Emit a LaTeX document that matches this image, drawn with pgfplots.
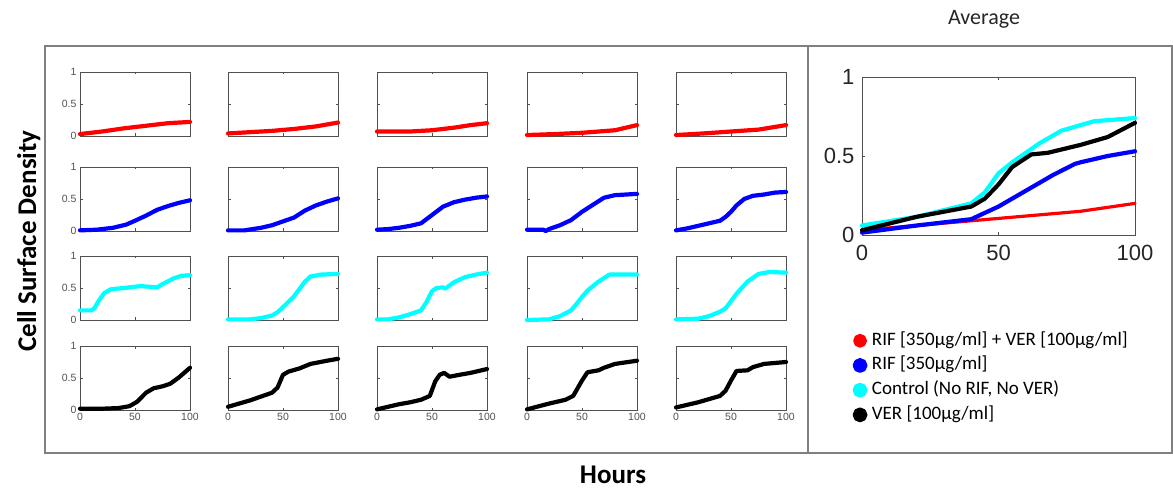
\documentclass[border=0pt]{standalone}
\usepackage{fontspec}
\setmainfont{Carlito}
\newfontfamily\helv{Liberation Sans}
\usepackage{pgfplots}
\pgfplotsset{compat=1.18}

\definecolor{framegray}{RGB}{128,128,128}
\definecolor{axgray}{RGB}{80,80,80}
\definecolor{labgray}{RGB}{38,38,38}
\definecolor{cy}{RGB}{0,255,255}
\definecolor{rd}{RGB}{255,0,0}
\definecolor{bl}{RGB}{0,0,255}

\pgfplotsset{
  cellax/.style={
    anchor=north west, scale only axis, width=110pt, height=64pt,
    xmin=0, xmax=100, ymin=0, ymax=1,
    xtick={0,50,100}, ytick={0,0.5,1},
    xticklabels={}, yticklabels={},
    tick align=inside, major tick length=2.5pt, tick pos=both,
    axis line style={draw=axgray, line width=0.8pt},
    tick style={draw=axgray, line width=0.6pt},
    tick label style={font=\helv\fontsize{10.5}{12}\selectfont, text=labgray!80},
    clip=false,
  },
  lx/.style={xticklabels={0,50,100}},
  ly/.style={yticklabels={0,0.5,1}},
  curve/.style={line width=4.2pt, line join=round, line cap=round},
}

% #1 left px, #2 top px, #3 colour, #4 extra axis options, #5 points
\newcommand{\cell}[5]{%
  \begin{axis}[cellax, at={(#1pt,-#2pt)}, #4]
    \addplot[#3, curve] coordinates {#5};
  \end{axis}}

\begin{document}
\begin{tikzpicture}[x=1pt, y=1pt]
\useasboundingbox (0pt,0pt) rectangle (1173pt,-489pt);

% frames
\draw[framegray, line width=1.5pt] (45pt,-46pt) rectangle (1172pt,-453pt);
\draw[framegray, line width=1.5pt] (808pt,-46pt) -- (808pt,-453pt);

% row 1: RIF + VER
\cell{80}{72}{rd}{ly}{(0,0.03) (20,0.07) (40,0.12) (60,0.16) (80,0.20) (100,0.22)}
\cell{228}{72}{rd}{}{(0,0.04) (20,0.06) (40,0.08) (60,0.11) (80,0.15) (100,0.21)}
\cell{377}{72}{rd}{}{(0,0.07) (30,0.07) (50,0.09) (70,0.13) (85,0.17) (100,0.20)}
\cell{527}{72}{rd}{}{(0,0.015) (25,0.03) (50,0.05) (80,0.09) (100,0.17)}
\cell{676}{72}{rd}{}{(0,0.015) (25,0.04) (50,0.07) (75,0.10) (100,0.17)}

% row 2: RIF
\cell{80}{167}{bl}{ly}{(0,0.01) (15,0.02) (30,0.05) (42,0.10) (50,0.16) (60,0.24) (70,0.33) (80,0.39) (90,0.44) (100,0.48)}
\cell{228}{167}{bl}{}{(0,0.01) (15,0.01) (30,0.05) (40,0.09) (50,0.15) (60,0.21) (70,0.32) (80,0.40) (90,0.46) (100,0.51)}
\cell{377}{167}{bl}{}{(0,0.02) (10,0.03) (20,0.05) (30,0.08) (40,0.12) (50,0.25) (60,0.38) (70,0.45) (80,0.49) (90,0.52) (100,0.54)}
\cell{527}{167}{bl}{}{(0,0.02) (15,0.02) (17,0.0) (20,0.03) (30,0.09) (40,0.17) (50,0.30) (60,0.41) (70,0.52) (80,0.56) (100,0.58)}
\cell{676}{167}{bl}{}{(0,0.01) (10,0.04) (20,0.08) (30,0.12) (40,0.16) (45,0.22) (50,0.30) (55,0.40) (62,0.50) (70,0.55) (80,0.57) (90,0.60) (100,0.61)}

% row 3: control
\cell{80}{256}{cy}{ly}{(0,0.15) (10,0.15) (13,0.18) (17,0.30) (22,0.42) (28,0.48) (40,0.50) (55,0.53) (70,0.51) (75,0.56) (85,0.65) (92,0.69) (100,0.70)}
\cell{228}{256}{cy}{}{(0,0.01) (20,0.01) (30,0.03) (40,0.07) (45,0.12) (50,0.20) (60,0.37) (70,0.60) (75,0.68) (85,0.71) (100,0.72)}
\cell{377}{256}{cy}{}{(0,0.01) (10,0.01) (20,0.04) (30,0.09) (40,0.15) (45,0.28) (50,0.45) (54,0.50) (60,0.51) (62,0.49) (70,0.59) (80,0.67) (90,0.71) (100,0.74)}
\cell{527}{256}{cy}{}{(0,0.00) (20,0.01) (30,0.06) (40,0.15) (45,0.25) (50,0.36) (55,0.46) (65,0.60) (75,0.71) (85,0.71) (100,0.71)}
\cell{676}{256}{cy}{}{(0,0.01) (20,0.02) (30,0.06) (40,0.13) (45,0.18) (55,0.41) (65,0.60) (75,0.72) (85,0.75) (100,0.74)}

% row 4: VER
\cell{80}{346}{black}{lx,ly}{(0,0.02) (20,0.02) (35,0.03) (45,0.06) (52,0.13) (60,0.27) (67,0.34) (75,0.37) (82,0.41) (90,0.51) (100,0.66)}
\cell{228}{346}{black}{lx}{(0,0.05) (10,0.10) (20,0.15) (30,0.21) (40,0.27) (45,0.35) (50,0.55) (55,0.60) (65,0.65) (75,0.72) (90,0.77) (100,0.80)}
\cell{377}{346}{black}{lx}{(0,0.01) (10,0.05) (20,0.09) (30,0.12) (40,0.16) (48,0.22) (53,0.45) (57,0.55) (61,0.58) (66,0.52) (75,0.55) (85,0.58) (100,0.64)}
\cell{527}{346}{black}{lx}{(0,0.01) (20,0.10) (35,0.16) (42,0.22) (50,0.46) (55,0.59) (65,0.62) (70,0.66) (80,0.72) (100,0.77)}
\cell{676}{346}{black}{lx}{(0,0.04) (20,0.12) (40,0.22) (45,0.30) (50,0.46) (55,0.61) (65,0.62) (70,0.67) (80,0.72) (100,0.75)}

% average
\begin{axis}[
  anchor=north west, at={(862pt,-77pt)}, scale only axis, width=273pt, height=158pt,
  xmin=0, xmax=100, ymin=0, ymax=1,
  xtick={0,50,100}, ytick={0,0.5,1},
  xticklabels={0,50,100}, yticklabels={0,0.5,1},
  tick align=inside, major tick length=3pt, tick pos=both,
  axis line style={draw=axgray, line width=0.9pt},
  tick style={draw=axgray, line width=0.6pt},
  tick label style={font=\helv\fontsize{22}{26}\selectfont, text=labgray},
  xticklabel style={yshift=-7pt},
  yticklabel style={xshift=-4pt},
  clip=false,
  legend style={at={(rel axis cs:-0.035,-0.608)}, anchor=north west, draw=none, fill=none,
    font=\fontsize{19}{22}\selectfont, row sep=5.7pt, inner sep=0pt,
    nodes={inner xsep=4.5pt, inner ysep=0pt, text height=14pt, text depth=5pt}},
  legend cell align=left,
  legend image code/.code={\fill[#1] (0pt,0pt) circle (5.3pt);},
]
\addplot[rd, line width=3.2pt, line cap=round, line join=round] coordinates {(0,0.03) (20,0.06) (40,0.09) (60,0.12) (80,0.15) (100,0.20)};
\addlegendentry{RIF [350µg/ml] + VER [100µg/ml]}
\addplot[bl, curve] coordinates {(0,0.015) (20,0.06) (40,0.10) (50,0.18) (60,0.28) (70,0.38) (78,0.45) (80,0.46) (90,0.50) (100,0.53)};
\addlegendentry{RIF [350µg/ml]}
\addplot[cy, curve] coordinates {(0,0.06) (20,0.115) (40,0.20) (45,0.27) (50,0.39) (55,0.46) (65,0.58) (73,0.66) (85,0.72) (100,0.74)};
\addlegendentry{Control (No RIF, No VER)}
\addplot[black, curve] coordinates {(0,0.03) (20,0.115) (40,0.18) (45,0.23) (50,0.32) (55,0.43) (62,0.51) (68,0.52) (80,0.57) (90,0.62) (100,0.71)};
\addlegendentry{VER [100µg/ml]}
\end{axis}

% titles
\node[anchor=base, font=\fontsize{22}{26}\selectfont, text=labgray] at (984pt,-25pt) {Average};
\node[anchor=base, font=\bfseries\fontsize{27}{32}\selectfont] at (613pt,-483pt) {Hours};
\node[anchor=base, rotate=90, font=\bfseries\fontsize{27}{32}\selectfont] at (36pt,-241pt) {Cell Surface Density};
\end{tikzpicture}
\end{document}
